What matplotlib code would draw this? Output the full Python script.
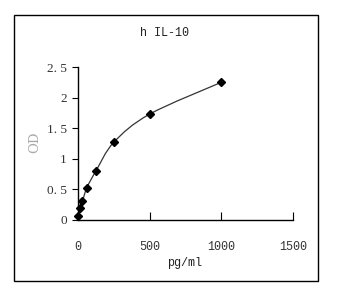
import matplotlib
matplotlib.use('Agg')
from matplotlib import pyplot as plt
from matplotlib.path import Path
from matplotlib.patches import PathPatch, Rectangle
import numpy as np

# standard curve data
conc = [0, 15.6, 31.25, 62.5, 125, 250, 500, 1000]
od = [0.06, 0.19, 0.31, 0.53, 0.80, 1.27, 1.73, 2.25]
xticks = [0, 500, 1000, 1500]
yticks = [0, 0.5, 1, 1.5, 2, 2.5]
ylabels = ['0', '0. 5', '1', '1. 5', '2', '2. 5']

plt.rcParams['font.family'] = ['Liberation Mono']

fig = plt.figure(figsize=(3.38, 2.93), dpi=100)
fig.patches.append(Rectangle((14/338, 12/293), 304/338, 266/293, transform=fig.transFigure,
                             fill=False, edgecolor='black', linewidth=1.0))

ax = fig.add_axes([78/338, 73/293, 215/338, 153/293])
ax.set_xlim(0, 1500)
ax.set_ylim(0, 2.5)
ax.spines['top'].set_visible(False)
ax.spines['right'].set_visible(False)
ax.spines['left'].set_linewidth(1.0)
ax.spines['bottom'].set_linewidth(1.0)

# smoothed line (Catmull-Rom style Bezier through the points)
x = np.array(conc, dtype=float)
y = np.array(od, dtype=float)
verts = [(x[0], y[0])]
codes = [Path.MOVETO]
n = len(x)
for i in range(n - 1):
    p0 = (x[max(i - 1, 0)], y[max(i - 1, 0)])
    p1 = (x[i], y[i])
    p2 = (x[i + 1], y[i + 1])
    p3 = (x[min(i + 2, n - 1)], y[min(i + 2, n - 1)])
    c1 = (p1[0] + (p2[0] - p0[0]) / 6, p1[1] + (p2[1] - p0[1]) / 6)
    c2 = (p2[0] - (p3[0] - p1[0]) / 6, p2[1] - (p3[1] - p1[1]) / 6)
    verts += [c1, c2, p2]
    codes += [Path.CURVE4] * 3
ax.add_patch(PathPatch(Path(verts, codes), fill=False, edgecolor='#333333', linewidth=0.9))

ax.plot(conc, od, linestyle='none', marker='D', markersize=4, color='black', clip_on=False)

ax.set_xticks(xticks)
ax.set_yticks(yticks)
ax.set_yticklabels(ylabels, family='Liberation Serif', fontsize=9.5)
ax.tick_params(axis='x', direction='in', length=6, pad=15, labelsize=8.5, colors='black', labelcolor='#333333')
ax.tick_params(axis='y', direction='out', length=4, pad=4, colors='black', labelcolor='#333333')

fig.text(165/338, 1 - 33/293, 'h IL-10', ha='center', va='center', fontsize=8.5, color='#222222')
fig.text(185/338, 1 - 263/293, 'pg/ml', ha='center', va='center', fontsize=8.5, color='#222222')
fig.text(35/338, 1 - 142/293, 'OD', ha='center', va='center', rotation=90, fontsize=9.5,
         family='DejaVu Serif', color='#aaaaaa')

plt.savefig('out.png', dpi=100)
